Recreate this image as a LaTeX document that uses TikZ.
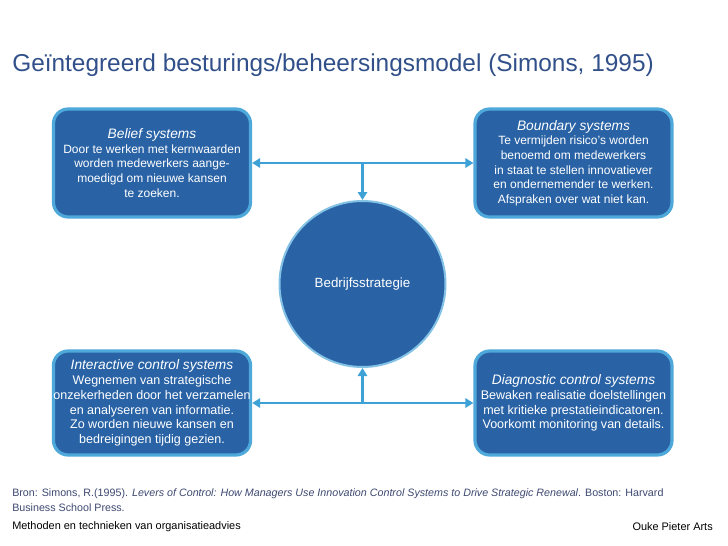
\documentclass[tikz,border=0pt]{standalone}
\usepackage{fontspec}
\setmainfont{Liberation Sans}
\usetikzlibrary{arrows.meta}
\definecolor{boxfill}{HTML}{2963A6}
\definecolor{boxline}{HTML}{4FA8DA}
\definecolor{arrcol}{HTML}{3FA2D6}
\definecolor{titlecol}{HTML}{31508A}
\definecolor{refcol}{HTML}{3D4870}
\tikzset{
  sysbox/.style={draw=boxline, line width=2.4pt, fill=boxfill, rounded corners=11pt,
    text=white, align=center, font=\fontsize{9}{11}\selectfont, inner sep=0pt,
    minimum width=197*0.75pt},
  conn/.style={draw=arrcol, line width=2pt, -{Triangle[width=7pt,length=6pt]}},
  conn2/.style={draw=arrcol, line width=2pt, {Triangle[width=7pt,length=6pt]}-{Triangle[width=7pt,length=6pt]}},
}
\begin{document}
\begin{tikzpicture}[x=0.75pt,y=-0.75pt]
\useasboundingbox (0,0) rectangle (728,546);
\node[anchor=west, inner sep=0pt, text=titlecol, font=\fontsize{18.3}{20}\selectfont] (title) at (12,65)
  {Geïntegreerd besturings/beheersingsmodel (Simons, 1995)};

\node[sysbox, minimum height=108*0.75pt] (belief) at (152,163)
  {{\fontsize{10.3}{11}\selectfont\itshape Belief systems}\\Door te werken met kernwaarden\\worden medewerkers aange-\\moedigd om nieuwe kansen\\te zoeken.};
\node[sysbox, minimum height=108*0.75pt] (boundary) at (573.5,163)
  {{\fontsize{10.3}{11}\selectfont\itshape Boundary systems}\\Te vermijden risico's worden\\benoemd om medewerkers\\in staat te stellen innovatiever\\en ondernemender te werken.\\Afspraken over wat niet kan.};
\node[sysbox, minimum height=104*0.75pt, font=\fontsize{9.4}{11.1}\selectfont] (interactive) at (152,403)
  {{\fontsize{10.3}{11}\selectfont\itshape Interactive control systems}\\Wegnemen van strategische\\onzekerheden door het verzamelen\\en analyseren van informatie.\\Zo worden nieuwe kansen en\\bedreigingen tijdig gezien.};
\node[sysbox, minimum height=104*0.75pt, font=\fontsize{9.4}{11.1}\selectfont] (diagnostic) at (573.5,403)
  {{\fontsize{10.3}{11.6}\selectfont\itshape Diagnostic control systems}\\Bewaken realisatie doelstellingen\\met kritieke prestatieindicatoren.\\Voorkomt monitoring van details.};

\node[circle, draw=boxline!70, line width=1.5pt, fill=boxfill, minimum size=166*0.75pt,
  text=white, font=\fontsize{10}{11}\selectfont, inner sep=0pt] (strat) at (362.5,284) {Bedrijfsstrategie};

\coordinate (jt) at (strat.north |- belief.east);
\coordinate (jb) at (strat.south |- interactive.east);
\draw[conn2] (belief.east) -- (boundary.west);
\draw[conn2] (interactive.east) -- (diagnostic.west);
\draw[conn] (jt) -- (strat.north);
\draw[conn] (jb) -- (strat.south);

\node[anchor=west, inner sep=0pt, text=refcol, font=\fontsize{8.03}{11}\selectfont, align=left] (ref) at (12,500)
  {Bron: Simons, R.(1995). \textit{Levers of Control: How Managers Use Innovation Control Systems to Drive Strategic Renewal}. Boston: Harvard\\Business School Press.};
\node[anchor=west, inner sep=0pt, font=\fontsize{8.2}{10}\selectfont] (course) at (12,527) {Methoden en technieken van organisatieadvies};
\node[anchor=east, inner sep=0pt, font=\fontsize{8.2}{10}\selectfont] (author) at (713,527) {Ouke Pieter Arts};
\end{tikzpicture}
\end{document}
